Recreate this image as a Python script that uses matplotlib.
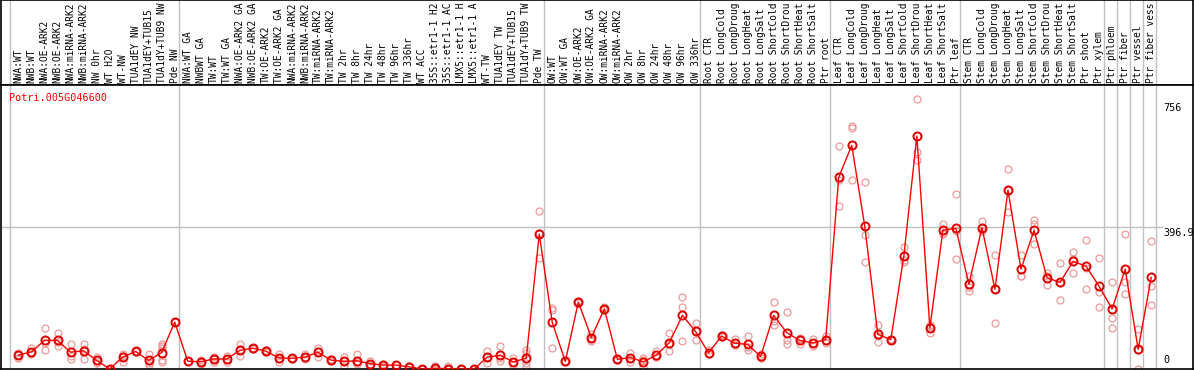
import numpy as np
import matplotlib.pyplot as plt
from matplotlib.transforms import blended_transform_factory

gene = "Potri.005G046600"

labels = [
  # group 1
  "NWA:WT", "NWB:WT", "NWA:OE-ARK2", "NWB:OE-ARK2", "NWA:miRNA-ARK2", "NWB:miRNA-ARK2",
  "NW 0hr", "WT H2O", "WT-NW", "TUA1dEY NW", "TUA1dEY+TUB15", "TUA1dY+TUB9 NW", "Pde NW",
  # group 2
  "NWA:WT GA", "NWBWT GA", "TW:WT", "TW:WT GA", "NWA:OE-ARK2 GA", "NWB:OE-ARK2 GA",
  "TW:OE-ARK2", "TW:OE-ARK2 GA", "NWA:miRNA-ARK2", "NWB:miRNA-ARK2", "TW:miRNA-ARK2",
  "TW:miRNA-ARK2", "TW 2hr", "TW 8hr", "TW 24hr", "TW 48hr", "TW 96hr", "TW 336hr",
  "WT ACC", "35S::etr1-1 H2", "35S::etr1-1 AC", "LMX5::etr1-1 H", "LMX5::etr1-1 A",
  "WT-TW", "TUA1dEY TW", "TUA1dEY+TUB15", "TUA1dY+TUB9 TW", "Pde TW",
  # group 3
  "OW:WT", "OW:WT GA", "OW:OE-ARK2", "OW:OE-ARK2 GA", "OW:miRNA-ARK2", "OW:miRNA-ARK2",
  "OW 2hr", "OW 8hr", "OW 24hr", "OW 48hr", "OW 96hr", "OW 336hr",
  # root
  "Root CTR", "Root LongCold", "Root LongDroug", "Root LongHeat", "Root LongSalt",
  "Root ShortCold", "Root ShortDrou", "Root ShortHeat", "Root ShortSalt", "Ptr root",
  # leaf
  "Leaf CTR", "Leaf LongCold", "Leaf LongDroug", "Leaf LongHeat", "Leaf LongSalt",
  "Leaf ShortCold", "Leaf ShortDrou", "Leaf ShortHeat", "Leaf ShortSalt", "Ptr leaf",
  # stem
  "Stem CTR", "Stem LongCold", "Stem LongDroug", "Stem LongHeat", "Stem LongSalt",
  "Stem ShortCold", "Stem ShortDrou", "Stem ShortHeat", "Stem ShortSalt", "Ptr shoot",
  "Ptr xylem",
  "Ptr phloem", "Ptr fiber", "Ptr vessel", "Ptr fiber vess",
]

means = [
  39, 48, 80, 80, 47, 51, 24, 0, 33, 49, 24, 46, 131,
  22, 20, 28, 28, 52, 58, 50, 31, 30, 33, 47, 25, 21, 23, 15, 11, 11, 6, 0, 2, 1, 0, 0,
  33, 38, 20, 30, 377,
  130, 21, 187, 88, 168, 27, 32, 20, 39, 74, 150, 105,
  45, 92, 72, 69, 35, 150, 102, 80, 73, 82,
  536, 625, 399, 97, 82, 315, 651, 115, 388, 393,
  237, 395, 223, 500, 279, 388, 255, 242, 301, 287, 231,
  168, 279, 55, 256,
]

reps = [
  [46, 39, 32], [58, 48, 41], [115, 72, 53], [101, 75, 64], [70, 37, 28], [70, 56, 27],
  [34, 22, 16], [1, 0, 0], [43, 37, 19], [51, 49, 47], [43, 18, 11], [69, 64, 58, 24, 19],
  [131, 131],
  [22, 22], [24, 20, 15], [34, 28, 19], [37, 28, 19], [70, 52, 37], [60, 58, 56],
  [52, 50, 48], [43, 28, 20], [32, 30, 28], [41, 33, 27], [60, 50, 34], [28, 25, 22],
  [34, 22, 7], [42, 20, 15], [21, 15, 11], [14, 11, 8], [12, 11, 10], [8, 6, 5],
  [0, 0, 0], [7, 0, 0], [7, 0, 0], [0, 0, 0], [0, 0, 0], [50, 33, 18], [64, 30, 22],
  [32, 20, 10], [53, 46, 18, 5], [441, 381, 309],
  [171, 166, 58], [22, 21, 20], [190, 187, 184], [98, 88, 78], [172, 168, 164],
  [29, 27, 25], [46, 30, 20], [30, 24, 6], [50, 34, 33], [102, 70, 50], [201, 172, 78],
  [128, 107, 80],
  [52, 41, 42], [95, 92, 89], [83, 66, 67], [92, 62, 53], [43, 32, 30], [186, 134, 124],
  [158, 80, 69], [86, 83, 71], [83, 72, 64], [92, 80, 74],
  [623, 528, 455], [678, 675, 527], [524, 375, 299], [123, 93, 75], [84, 82, 80],
  [340, 306, 300], [756, 607, 584], [124, 119, 102], [406, 381, 377], [488, 387, 307],
  [261, 228, 219], [415, 393, 387], [318, 223, 129], [559, 500, 440], [320, 259, 259],
  [417, 404, 350], [269, 261, 235], [295, 240, 192], [326, 308, 269], [360, 283, 223],
  [309, 214, 173],
  [243, 142, 114], [377, 244, 211], [111, 54, 0], [357, 231, 178],
]

# category index where each grey separator sits
group_edges = [0, 13, 41, 53, 63, 73, 84, 85, 86, 87, 88]

ymax = 793.8
yticks = [0, 396.9, 756]

W, H = 1194, 370
fig = plt.figure(figsize=(W / 100, H / 100), dpi=100)
font = dict(family="DejaVu Sans Mono", size=7.25)
lab_font = dict(family="DejaVu Sans Mono", size=6.85)

# pixel layout
left_px, right_px = 1, 1193
label_top, label_bot, plot_bot = 0, 85, 369
ax_lab = fig.add_axes([left_px / W, (H - label_bot) / H, (right_px - left_px) / W, (label_bot - label_top) / H])
ax = fig.add_axes([left_px / W, (H - plot_bot) / H, (right_px - left_px) / W, (plot_bot - label_bot) / H], sharex=ax_lab)

# x units: one category per 13.02 px, first separator at px 10
step = 13.02
ax.set_xlim((left_px - 10) / step, (right_px - 10) / step)
ax.set_ylim(0, ymax)
ax_lab.set_ylim(0, 85)

for a in (ax, ax_lab):
  a.set_xticks([])
  a.set_yticks([])
  for s in a.spines.values():
    s.set_color("black")
    s.set_linewidth(1.2)
  for e in group_edges:
    a.axvline(e, color="#c0c0c0", lw=1, zorder=0)

xs = np.arange(len(labels)) + 0.65

for x, lab in zip(xs, labels):
  ax_lab.text(x, 2, lab, rotation=90, ha="center", va="bottom", **lab_font)

ax.axhline(ymax / 2, xmin=0, xmax=0.974, color="#c0c0c0", lw=1, zorder=0)

# replicates
for x, r in zip(xs, reps):
  ax.plot([x] * len(r), r, "o", ms=5, mfc="none", mec="#eb9a9a", mew=0.9, zorder=2)

ax.plot(xs, means, "-", color="#ff0000", lw=1, zorder=3)
ax.plot(xs, means, "o", ms=5.8, mfc="none", mec="#e00000", mew=1.4, zorder=4)

ax.text(0.007, 0.972, gene, color="#ff0000", transform=ax.transAxes, va="top", ha="left", **font)

tr = blended_transform_factory(ax.transAxes, ax.transData)
xt = (1163 - left_px) / (right_px - left_px)
ax.annotate(f"{yticks[2]:g}", xy=(xt, yticks[2]), xycoords=tr, xytext=(0, -4),
            textcoords="offset pixels", va="top", ha="left", **font)
ax.annotate(f"{yticks[1]:g}", xy=(xt, yticks[1]), xycoords=tr, xytext=(0, -1),
            textcoords="offset pixels", va="top", ha="left", annotation_clip=False, **font)
ax.annotate(f"{yticks[0]:g}", xy=(xt, yticks[0]), xycoords=tr, xytext=(0, 4),
            textcoords="offset pixels", va="bottom", ha="left", **font)

fig.savefig("out.png", dpi=100)
